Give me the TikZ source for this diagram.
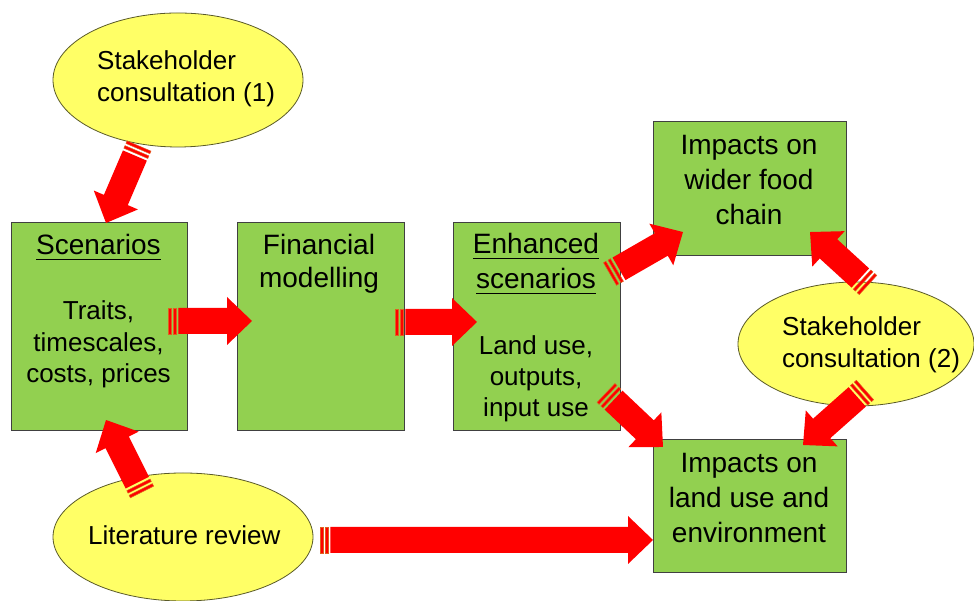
\documentclass[tikz,border=0pt]{standalone}
\usepackage{fontspec}
\setmainfont{Liberation Sans}
\usetikzlibrary{calc,shapes.geometric}

\definecolor{boxgreen}{RGB}{146,208,80}
\definecolor{boxline}{RGB}{64,64,64}
\definecolor{ovalyellow}{RGB}{255,255,102}
\definecolor{ovalline}{RGB}{90,90,40}
\definecolor{arrowred}{RGB}{255,0,0}
\definecolor{stripeedge}{RGB}{225,95,30}

% underlined heading with a heavier rule
\newcommand\ulinetext[1]{\setbox0\hbox{#1}\rlap{\rule[-5.5pt]{\wd0}{1.8pt}}\box0}

% thick red block arrow with two stripes at its tail
\newcommand\redarrow[2]{%
  \path let \p1=($(#2)-(#1)$) in
    \pgfextra{\pgfmathsetmacro\arrang{atan2(\y1,\x1)}%
              \pgfmathsetmacro\arrlen{veclen(\x1,\y1)}%
              \global\let\arrang\arrang \global\let\arrlen\arrlen};
  \begin{scope}[shift={(#1)},rotate=\arrang]
    \fill[arrowred,draw=stripeedge,line width=0.5pt] (0,-13) rectangle (2.8,13);
    \fill[arrowred,draw=stripeedge,line width=0.5pt] (5.2,-13) rectangle (8,13);
    \fill[arrowred] (10.4,-13) -- ({\arrlen-25},-13) -- ({\arrlen-25},-24)
      -- (\arrlen,0) -- ({\arrlen-25},24) -- ({\arrlen-25},13) -- (10.4,13) -- cycle;
  \end{scope}}

% multi-line texts are placed by the baseline of their last line
\tikzset{
  greenbox/.style={draw=boxline,line width=1pt,fill=boxgreen,rectangle,inner sep=0pt},
  oval/.style={draw=ovalline,line width=0.8pt,fill=ovalyellow,ellipse,inner sep=0pt},
  bigtext/.style={inner sep=0pt,align=center,anchor=base,font=\fontsize{28}{35}\selectfont},
  smalltext/.style={inner sep=0pt,align=center,anchor=base,font=\fontsize{26}{31.5}\selectfont},
  ovaltext/.style={inner sep=0pt,align=left,anchor=base west,font=\fontsize{26}{32.5}\selectfont},
}

\begin{document}
\begin{tikzpicture}[x=1pt,y=1pt]
\useasboundingbox[fill=white] (0,0) rectangle (974,601);

% boxes
\node[greenbox,minimum width=176,minimum height=208] (scen) at (99,274) {};
\node[greenbox,minimum width=167,minimum height=208] (fin) at (320.5,274) {};
\node[greenbox,minimum width=167,minimum height=208] (enh) at (536.5,274) {};
\node[greenbox,minimum width=193,minimum height=134] (food) at (749.5,412) {};
\node[greenbox,minimum width=193,minimum height=133] (land) at (749.5,94.5) {};

% ovals
\node[oval,minimum width=250,minimum height=134] (cons1) at (178,521) {};
\node[oval,minimum width=236,minimum height=124] (cons2) at (856,257) {};
\node[oval,minimum width=260,minimum height=128] (lit) at (183,64) {};

% texts
\node[bigtext] (scenhead) at (98.5,346) {\ulinetext{Scenarios}};
\node[smalltext] (scendet) at (98.5,218) {Traits,\\timescales,\\costs, prices};
\node[bigtext,font=\fontsize{28}{33}\selectfont] (fintext) at (319,313) {Financial\\modelling};
\node[bigtext] (enhhead) at (536,312) {\ulinetext{Enhanced}\\\ulinetext{scenarios}};
\node[smalltext,font=\fontsize{26}{31}\selectfont] (enhdet) at (536,184) {Land use,\\outputs,\\input use};
\node[bigtext] (foodtext) at (749,376) {Impacts on\\wider food\\chain};
\node[bigtext] (landtext) at (749,58) {Impacts on\\land use and\\environment};
\node[ovaltext] (cons1text) at (97,499) {Stakeholder\\consultation (1)};
\node[ovaltext] (cons2text) at (782,233) {Stakeholder\\consultation (2)};
\node[ovaltext] (littext) at (88,56) {Literature review};

% arrow end points
\coordinate (c1t) at (139,455);  \coordinate (c1h) at (106,378);
\coordinate (sft) at (168,280);  \coordinate (sfh) at (252,280);
\coordinate (fet) at (395,279);  \coordinate (feh) at (477,279);
\coordinate (eft) at (610,327);  \coordinate (efh) at (683,369);
\coordinate (elt) at (606,208);  \coordinate (elh) at (663,154);
\coordinate (c2ft) at (868,316); \coordinate (c2fh) at (810,369);
\coordinate (c2lt) at (865,211); \coordinate (c2lh) at (803,156);
\coordinate (lst) at (142,109);  \coordinate (lsh) at (106,181);
\coordinate (llt) at (320,61);   \coordinate (llh) at (653,61);

% arrows
\redarrow{c1t}{c1h}
\redarrow{sft}{sfh}
\redarrow{fet}{feh}
\redarrow{eft}{efh}
\redarrow{elt}{elh}
\redarrow{c2ft}{c2fh}
\redarrow{c2lt}{c2lh}
\redarrow{lst}{lsh}
\redarrow{llt}{llh}
\end{tikzpicture}
\end{document}
